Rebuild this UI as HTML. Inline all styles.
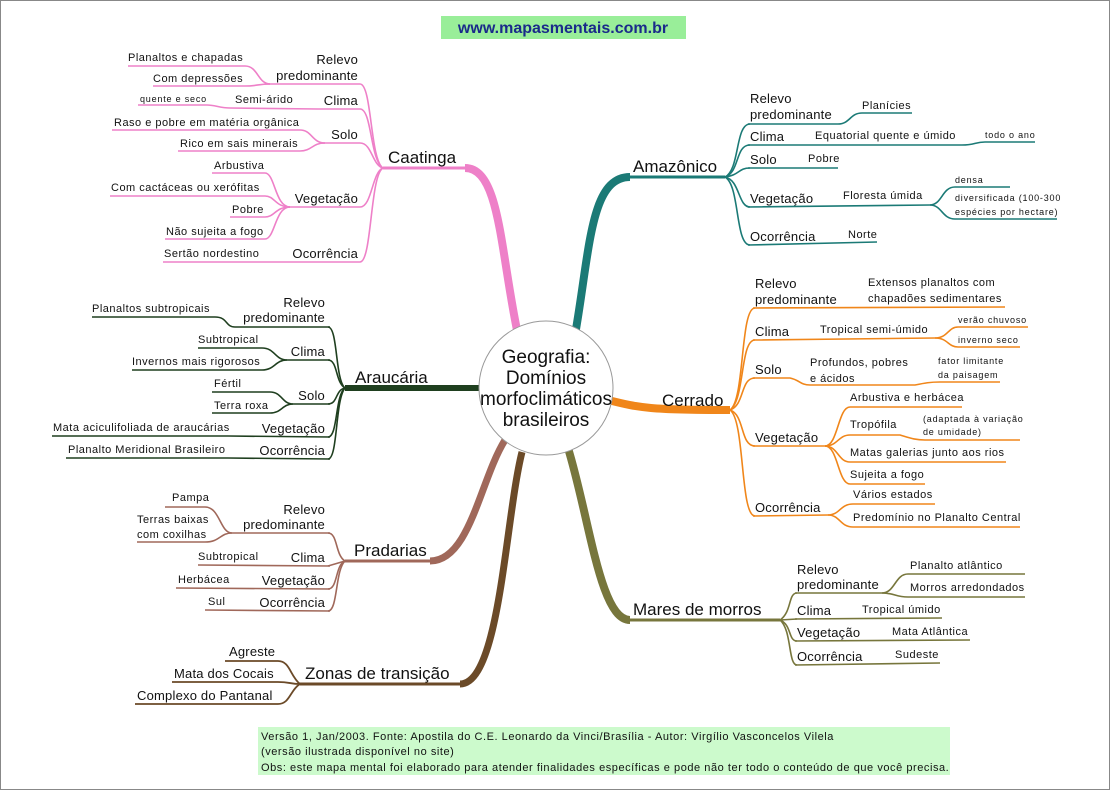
<!DOCTYPE html>
<html><head><meta charset="utf-8"><style>
html,body{margin:0;padding:0;background:#fff}
svg{display:block}
text{font-family:"Liberation Sans",sans-serif;fill:#111}
.l{font-size:11px;letter-spacing:0.5px}.s{font-size:9px;letter-spacing:0.8px}.m{font-size:13px;letter-spacing:0.2px}.b{font-size:17px}
.f{font-size:11px;letter-spacing:0.55px}
</style></head><body>
<svg width="1110" height="790" viewBox="0 0 1110 790" xmlns="http://www.w3.org/2000/svg">
<rect x="0.5" y="0.5" width="1109" height="789" fill="#fff" stroke="#888"/>
<rect x="441" y="16" width="245" height="23" fill="#99ee99"/>
<text x="563" y="33" text-anchor="middle" style="font-size:16px;font-weight:bold;fill:#1a2a8a">www.mapasmentais.com.br</text>

<!-- CAATINGA pink -->
<g stroke="#ee80c8" fill="none">
<path d="M465 168 C500 168 500 250 518 335" stroke-width="8"/>
<path d="M383 168 L465 168" stroke-width="3"/>
<g stroke-width="1.6">
<path d="M383 168 C370 160 372 84 360 84"/><path d="M383 168 C370 160 372 109 360 109"/><path d="M383 168 C372 165 372 143 360 143"/><path d="M383 168 C372 172 372 207 360 207"/><path d="M383 168 C370 175 372 262 360 262"/>
<path d="M265 84 L360 84"/><path d="M318 109 L360 109"/><path d="M320 143 L360 143"/><path d="M288 207 L360 207"/><path d="M285 262 L360 262"/>
<path d="M270 84 C258 84 258 66 245 66 L128 66"/><path d="M270 84 C258 84 258 86 245 86 L153 86"/>
<path d="M318 109 L230 108 C220 108 215 105 207 105 L138 105"/>
<path d="M325 143 C312 143 312 130 300 130 L112 130"/><path d="M325 143 C312 143 312 151 300 151 L178 151"/>
<path d="M290 207 C275 207 275 173 265 173 L212 173"/><path d="M290 207 C275 207 275 196 265 196 L110 196"/><path d="M290 207 C275 207 275 217 265 217 L230 217"/><path d="M290 207 C275 207 275 239 265 239 L165 239"/>
<path d="M285 262 L163 262"/>
</g></g>
<text class="b" x="388" y="163">Caatinga</text>
<text class="m" x="358" y="64" text-anchor="end">Relevo</text><text class="m" x="358" y="80" text-anchor="end">predominante</text>
<text class="m" x="358" y="105" text-anchor="end">Clima</text><text class="m" x="358" y="139" text-anchor="end">Solo</text>
<text class="m" x="358" y="203" text-anchor="end">Vegetação</text><text class="m" x="358" y="258" text-anchor="end">Ocorrência</text>
<text class="l" x="128" y="61">Planaltos e chapadas</text><text class="l" x="153" y="82">Com depressões</text>
<text class="s" x="140" y="102">quente e seco</text><text class="l" x="235" y="103">Semi-árido</text>
<text class="l" x="114" y="126">Raso e pobre em matéria orgânica</text><text class="l" x="180" y="147">Rico em sais minerais</text>
<text class="l" x="214" y="169">Arbustiva</text><text class="l" x="111" y="191">Com cactáceas ou xerófitas</text>
<text class="l" x="232" y="213">Pobre</text><text class="l" x="166" y="235">Não sujeita a fogo</text>
<text class="l" x="164" y="257">Sertão nordestino</text>

<!-- AMAZONICO teal -->
<g stroke="#1b7a76" fill="none">
<path d="M575 335 C590 250 590 177 630 177" stroke-width="8"/>
<path d="M630 177 L725 177" stroke-width="3"/>
<g stroke-width="1.6">
<path d="M725 177 C740 170 735 124 750 124"/><path d="M725 177 C740 172 735 145 750 145"/><path d="M725 177 C740 175 738 168 750 168"/><path d="M725 177 C740 180 738 207 750 207"/><path d="M725 177 C740 185 735 245 750 245"/>
<path d="M748 124 L838 124 C850 124 850 113 862 113 L912 113"/>
<path d="M748 145 L962 145 C975 145 975 142 985 142 L1035 142"/>
<path d="M748 168 L838 168"/>
<path d="M748 207 L930 205 C942 205 942 187 955 187 L1010 187"/><path d="M930 205 C942 205 942 219 955 219 L1057 219"/>
<path d="M748 245 L877 242"/>
</g></g>
<text class="b" x="633" y="172">Amazônico</text>
<text class="m" x="750" y="103">Relevo</text><text class="m" x="750" y="119">predominante</text>
<text class="m" x="750" y="141">Clima</text><text class="m" x="750" y="164">Solo</text>
<text class="m" x="750" y="203">Vegetação</text><text class="m" x="750" y="241">Ocorrência</text>
<text class="l" x="862" y="109">Planícies</text><text class="l" x="815" y="139">Equatorial quente e úmido</text>
<text class="s" x="985" y="138">todo o ano</text><text class="l" x="808" y="162">Pobre</text>
<text class="l" x="843" y="199">Floresta úmida</text><text class="s" x="955" y="183">densa</text>
<text class="s" x="955" y="201">diversificada (100-300</text><text class="s" x="955" y="215">espécies por hectare)</text>
<text class="l" x="848" y="238">Norte</text>

<!-- CERRADO orange -->
<g stroke="#f0861a" fill="none">
<path d="M608 400 C640 408 650 410 730 410" stroke-width="8"/>
<g stroke-width="1.6">
<path d="M730 410 C745 400 740 308 755 308"/><path d="M730 410 C745 400 740 340 755 340"/><path d="M730 410 C745 405 740 378 755 378"/><path d="M730 410 C745 415 740 446 755 446"/><path d="M730 410 C745 420 740 516 755 516"/>
<path d="M753 308 L1005 307"/>
<path d="M753 340 L935 338 C948 338 948 327 958 327 L1028 327"/><path d="M935 338 C948 338 948 347 958 347 L1020 347"/>
<path d="M753 378 L790 378 C800 380 800 385 810 385 L915 385 C925 383 930 382 940 382 L1000 382"/>
<path d="M753 446 L825 446 C838 446 838 407 850 407 L962 407"/><path d="M825 446 C838 446 838 435 850 435 L900 435 C910 438 915 440 925 440 L1020 440"/>
<path d="M825 446 C838 446 838 462 850 462 L1006 462"/><path d="M825 446 C838 446 838 484 850 484 L925 484"/>
<path d="M753 516 L828 515 C840 515 840 504 853 504 L935 504"/><path d="M828 515 C840 515 840 527 853 527 L1020 527"/>
</g></g>
<text class="b" x="662" y="406">Cerrado</text>
<text class="m" x="755" y="288">Relevo</text><text class="m" x="755" y="304">predominante</text>
<text class="m" x="755" y="336">Clima</text><text class="m" x="755" y="374">Solo</text>
<text class="m" x="755" y="442">Vegetação</text><text class="m" x="755" y="512">Ocorrência</text>
<text class="l" x="868" y="286">Extensos planaltos com</text><text class="l" x="868" y="302">chapadões sedimentares</text>
<text class="l" x="820" y="333">Tropical semi-úmido</text><text class="s" x="958" y="323">verão chuvoso</text><text class="s" x="958" y="343">inverno seco</text>
<text class="l" x="810" y="366">Profundos, pobres</text><text class="l" x="810" y="382">e ácidos</text>
<text class="s" x="938" y="364">fator limitante</text><text class="s" x="938" y="378">da paisagem</text>
<text class="l" x="850" y="401">Arbustiva e herbácea</text><text class="l" x="850" y="428">Tropófila</text>
<text class="s" x="923" y="422">(adaptada à variação</text><text class="s" x="923" y="435">de umidade)</text>
<text class="l" x="850" y="456">Matas galerias junto aos rios</text><text class="l" x="850" y="478">Sujeita a fogo</text>
<text class="l" x="853" y="498">Vários estados</text><text class="l" x="853" y="521">Predomínio no Planalto Central</text>

<!-- MARES DE MORROS olive -->
<g stroke="#77763c" fill="none">
<path d="M568 448 C590 520 600 620 630 620" stroke-width="8"/>
<path d="M630 620 L780 620" stroke-width="3"/>
<g stroke-width="1.6">
<path d="M780 620 C792 612 788 593 797 593"/><path d="M780 620 L797 619"/><path d="M780 620 C792 625 788 641 797 641"/><path d="M780 620 C792 630 788 665 797 665"/>
<path d="M795 593 L882 593 C895 593 895 574 908 574 L1025 574"/><path d="M882 593 C895 593 895 597 908 597 L1025 597"/>
<path d="M795 619 L942 618"/><path d="M795 641 L970 640"/><path d="M795 665 L940 663"/>
</g></g>
<text class="b" x="633" y="615">Mares de morros</text>
<text class="m" x="797" y="574">Relevo</text><text class="m" x="797" y="589">predominante</text>
<text class="m" x="797" y="615">Clima</text><text class="m" x="797" y="637">Vegetação</text><text class="m" x="797" y="661">Ocorrência</text>
<text class="l" x="910" y="569">Planalto atlântico</text><text class="l" x="910" y="591">Morros arredondados</text>
<text class="l" x="862" y="613">Tropical úmido</text><text class="l" x="892" y="635">Mata Atlântica</text><text class="l" x="895" y="658">Sudeste</text>

<!-- ARAUCARIA dark green -->
<g stroke="#1f3f1f" fill="none">
<path d="M345 388 L482 388" stroke-width="6"/>
<g stroke-width="1.6">
<path d="M345 388 C335 380 338 327 328 327"/><path d="M345 388 C335 382 338 360 328 360"/><path d="M345 388 C335 390 338 404 328 404"/><path d="M345 388 C335 395 338 437 328 437"/><path d="M345 388 C335 400 338 459 328 459"/>
<path d="M330 327 L235 327 C225 327 228 317 215 317 L92 317"/>
<path d="M330 360 L287 360 C275 360 275 348 262 348 L198 348"/><path d="M287 360 C275 360 275 370 262 370 L132 370"/>
<path d="M330 404 L293 404 C282 404 282 392 270 392 L212 392"/><path d="M293 404 C282 404 282 413 270 413 L212 413"/>
<path d="M330 437 L228 436 L52 436"/><path d="M330 459 L228 458 L66 458"/>
</g></g>
<text class="b" x="355" y="383">Araucária</text>
<text class="m" x="325" y="307" text-anchor="end">Relevo</text><text class="m" x="325" y="322" text-anchor="end">predominante</text>
<text class="m" x="325" y="356" text-anchor="end">Clima</text><text class="m" x="325" y="400" text-anchor="end">Solo</text>
<text class="m" x="325" y="433" text-anchor="end">Vegetação</text><text class="m" x="325" y="455" text-anchor="end">Ocorrência</text>
<text class="l" x="92" y="312">Planaltos subtropicais</text><text class="l" x="198" y="343">Subtropical</text>
<text class="l" x="132" y="365">Invernos mais rigorosos</text><text class="l" x="214" y="387">Fértil</text><text class="l" x="214" y="409">Terra roxa</text>
<text class="l" x="53" y="431">Mata aciculifoliada de araucárias</text><text class="l" x="68" y="453">Planalto Meridional Brasileiro</text>

<!-- PRADARIAS brown -->
<g stroke="#a0685a" fill="none">
<path d="M430 561 C470 561 480 480 505 440" stroke-width="7"/>
<path d="M345 561 L430 561" stroke-width="3"/>
<g stroke-width="1.6">
<path d="M345 561 C335 555 338 533 328 533"/><path d="M345 561 L328 566"/><path d="M345 561 C335 565 338 589 328 589"/><path d="M345 561 C335 570 338 611 328 611"/>
<path d="M330 533 L232 533 C220 533 220 507 205 507 L165 507"/><path d="M232 533 C220 533 220 542 205 542 L137 542"/>
<path d="M330 566 L198 565"/><path d="M330 589 L176 588"/><path d="M330 611 L205 610"/>
</g></g>
<text class="b" x="354" y="556">Pradarias</text>
<text class="m" x="325" y="514" text-anchor="end">Relevo</text><text class="m" x="325" y="529" text-anchor="end">predominante</text>
<text class="m" x="325" y="562" text-anchor="end">Clima</text><text class="m" x="325" y="585" text-anchor="end">Vegetação</text><text class="m" x="325" y="607" text-anchor="end">Ocorrência</text>
<text class="l" x="172" y="501">Pampa</text><text class="l" x="137" y="523">Terras baixas</text><text class="l" x="137" y="538">com coxilhas</text>
<text class="l" x="198" y="560">Subtropical</text><text class="l" x="178" y="583">Herbácea</text><text class="l" x="208" y="605">Sul</text>

<!-- ZONAS DE TRANSICAO -->
<g stroke="#6b4a28" fill="none">
<path d="M460 684 C500 684 505 520 522 452" stroke-width="7"/>
<path d="M300 684 L460 684" stroke-width="3"/>
<g stroke-width="1.8">
<path d="M300 684 C290 676 290 661 278 661 L225 661"/><path d="M300 684 C290 684 290 682 278 682 L172 682"/><path d="M300 684 C290 690 290 704 278 704 L135 704"/>
</g></g>
<text class="b" x="305" y="679">Zonas de transição</text>
<text class="m" x="229" y="656">Agreste</text><text class="m" x="174" y="678">Mata dos Cocais</text><text class="m" x="137" y="700">Complexo do Pantanal</text>

<!-- center -->
<circle cx="546" cy="388" r="67" fill="#fff" stroke="#999" stroke-width="1"/>
<g style="font-size:19px" text-anchor="middle">
<text x="546" y="363">Geografia:</text><text x="546" y="384">Domínios</text>
<text x="546" y="405">morfoclimáticos</text><text x="546" y="426">brasileiros</text></g>

<!-- footer -->
<rect x="258" y="727" width="692" height="48" fill="#ccfacc"/>
<text class="f" x="261" y="740">Versão 1, Jan/2003. Fonte: Apostila do C.E. Leonardo da Vinci/Brasília - Autor: Virgílio Vasconcelos Vilela</text>
<text class="f" x="261" y="755">(versão ilustrada disponível no site)</text>
<text class="f" x="261" y="771">Obs: este mapa mental foi elaborado para atender finalidades específicas e pode não ter todo o conteúdo de que você precisa.</text>
</svg>
</body></html>
